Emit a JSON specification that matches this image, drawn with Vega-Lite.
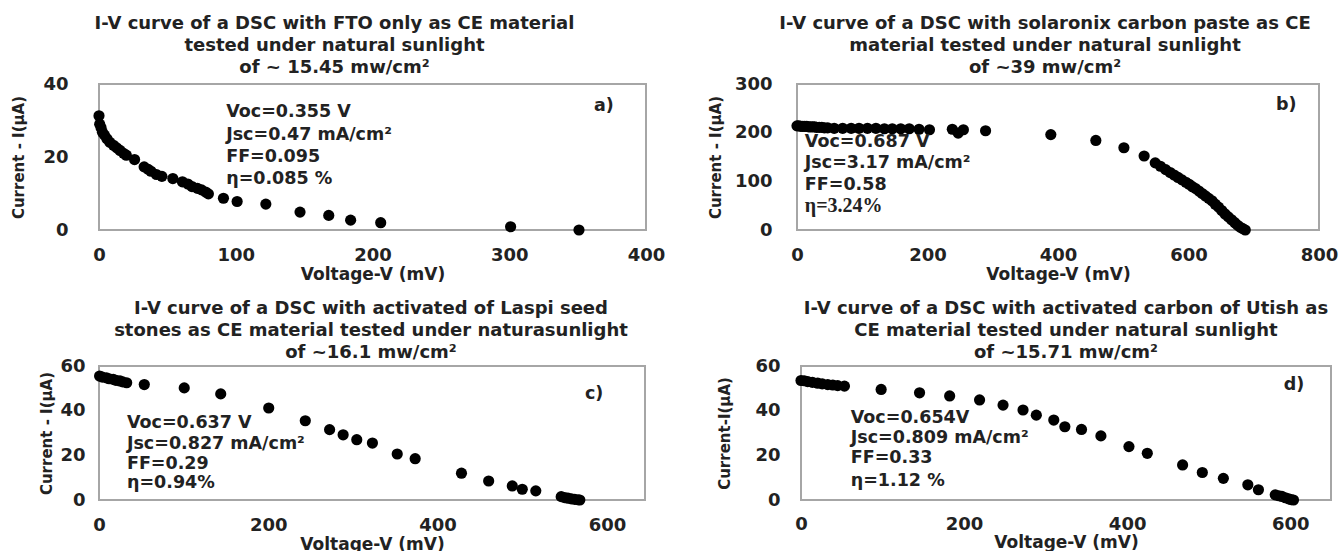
{
  "$schema": "https://vega.github.io/schema/vega-lite/v6.json",
  "padding": {"left": 10, "top": 14, "right": 0, "bottom": 0},
  "background": "white",
  "config": {
    "font": "DejaVu Sans",
    "view": {"stroke": "#a6a6a6", "strokeWidth": 2},
    "axis": {"domain": false, "ticks": false, "grid": false, "labelFont": "DejaVu Sans", "labelFontWeight": "bold", "labelFontSize": 18, "labelColor": "#222222", "titleFont": "DejaVu Sans", "titleFontWeight": "bold", "titleColor": "#222222"},
    "axisX": {"titleFontSize": 17, "labelPadding": 16, "titlePadding": 2, "labelFlush": false},
    "axisY": {"titleFontSize": 15},
    "title": {"font": "DejaVu Sans", "fontSize": 18, "fontWeight": "bold", "lineHeight": 22, "anchor": "middle", "color": "#222222", "frame": "group"},
    "circle": {"color": "black", "size": 125, "opacity": 1},
    "text": {"font": "DejaVu Sans", "fontSize": 17.5, "fontWeight": "bold", "color": "#222222", "align": "left", "baseline": "middle"}
  },
  "vconcat": [
    {
      "spacing": 41,
      "hconcat": [
        {
          "width": 547, "height": 146,
          "title": {"text": ["I-V curve of a DSC with FTO only as CE material", "tested under natural sunlight", "of ~ 15.45 mw/cm²"], "dx": -38, "offset": -2},
          "layer": [
            {
              "data": {"values": [
                {"V": 0, "I": 31.3}, {"V": 0.5, "I": 29}, {"V": 1.5, "I": 28}, {"V": 2.5, "I": 26.8}, {"V": 4, "I": 26}, {"V": 5.8, "I": 25}, {"V": 8, "I": 24}, {"V": 10.6, "I": 23.2}, {"V": 13, "I": 22.5}, {"V": 15.4, "I": 21.8}, {"V": 18, "I": 21}, {"V": 20, "I": 20.5}, {"V": 26, "I": 19.3}, {"V": 33, "I": 17.3}, {"V": 36, "I": 16.6}, {"V": 38, "I": 16.1}, {"V": 42, "I": 15.2}, {"V": 46, "I": 14.7}, {"V": 54, "I": 14.1}, {"V": 61, "I": 13.2}, {"V": 65, "I": 12.6}, {"V": 68, "I": 11.9}, {"V": 72, "I": 11.4}, {"V": 75, "I": 11}, {"V": 78, "I": 10.4}, {"V": 80, "I": 9.9}, {"V": 91, "I": 8.7}, {"V": 101, "I": 7.8}, {"V": 122, "I": 7.1}, {"V": 147, "I": 4.9}, {"V": 168, "I": 4}, {"V": 184, "I": 2.7}, {"V": 206, "I": 2}, {"V": 301, "I": 0.9}, {"V": 351, "I": 0}
              ]},
              "mark": {"type": "circle"},
              "encoding": {
                "x": {"field": "V", "type": "quantitative", "title": "Voltage-V (mV)", "scale": {"domain": [0, 400], "nice": false}, "axis": {"values": [0, 100, 200, 300, 400]}},
                "y": {"field": "I", "type": "quantitative", "title": "Current - I(µA)", "scale": {"domain": [0, 40], "nice": false}, "axis": {"values": [0, 10, 20, 30, 40], "labelPadding": 31, "titlePadding": 16}}
              }
            },
            {
              "data": {"values": [
                {"V": 93, "I": 32.2, "label": "Voc=0.355 V"}, {"V": 93, "I": 25.9, "label": "Jsc=0.47 mA/cm²"}, {"V": 93, "I": 20, "label": "FF=0.095"}, {"V": 93, "I": 14.1, "label": "η=0.085 %"}, {"V": 362, "I": 34, "label": "a)"}
              ]},
              "mark": {"type": "text"},
              "encoding": {"x": {"field": "V", "type": "quantitative"}, "y": {"field": "I", "type": "quantitative"}, "text": {"field": "label"}}
            }
          ]
        },
        {
          "width": 522, "height": 146,
          "title": {"text": ["I-V curve of a DSC with solaronix carbon paste as CE", "material tested under natural sunlight", "of ~39 mw/cm²"], "dx": -13, "offset": -2},
          "layer": [
            {
              "data": {"values": [
                {"V": 0, "I": 214}, {"V": 3, "I": 214}, {"V": 6, "I": 213}, {"V": 9, "I": 213}, {"V": 12, "I": 213}, {"V": 15, "I": 213}, {"V": 18, "I": 212}, {"V": 21, "I": 212}, {"V": 24, "I": 212}, {"V": 27, "I": 212}, {"V": 30, "I": 211}, {"V": 34, "I": 211}, {"V": 38, "I": 211}, {"V": 42, "I": 210}, {"V": 47, "I": 210}, {"V": 57, "I": 209}, {"V": 70, "I": 209}, {"V": 83, "I": 209}, {"V": 95, "I": 209}, {"V": 108, "I": 209}, {"V": 121, "I": 209}, {"V": 134, "I": 208}, {"V": 146, "I": 208}, {"V": 159, "I": 208}, {"V": 172, "I": 208}, {"V": 187, "I": 207}, {"V": 203, "I": 206}, {"V": 238, "I": 207}, {"V": 247, "I": 199}, {"V": 255, "I": 206}, {"V": 289, "I": 204}, {"V": 389, "I": 196}, {"V": 458, "I": 184}, {"V": 501, "I": 169}, {"V": 532, "I": 152}, {"V": 549, "I": 138}, {"V": 557, "I": 131}, {"V": 565, "I": 124}, {"V": 572, "I": 118}, {"V": 578, "I": 113}, {"V": 584, "I": 108}, {"V": 590, "I": 103}, {"V": 596, "I": 98}, {"V": 601, "I": 94}, {"V": 606, "I": 89}, {"V": 611, "I": 85}, {"V": 616, "I": 80}, {"V": 621, "I": 75}, {"V": 626, "I": 70}, {"V": 631, "I": 65}, {"V": 636, "I": 60}, {"V": 641, "I": 53}, {"V": 646, "I": 47}, {"V": 651, "I": 40}, {"V": 656, "I": 33}, {"V": 661, "I": 27}, {"V": 666, "I": 21}, {"V": 671, "I": 15}, {"V": 675, "I": 10}, {"V": 679, "I": 6}, {"V": 683, "I": 3}, {"V": 687, "I": 0}
              ]},
              "mark": {"type": "circle"},
              "encoding": {
                "x": {"field": "V", "type": "quantitative", "title": "Voltage-V (mV)", "scale": {"domain": [0, 800], "nice": false}, "axis": {"values": [0, 200, 400, 600, 800]}},
                "y": {"field": "I", "type": "quantitative", "title": "Current - I(µA)", "scale": {"domain": [0, 300], "nice": false}, "axis": {"values": [0, 100, 200, 300], "labelPadding": 25, "titlePadding": 11}}
              }
            },
            {
              "data": {"values": [
                {"V": 12, "I": 181, "label": "Voc=0.687 V"}, {"V": 12, "I": 137, "label": "Jsc=3.17 mA/cm²"}, {"V": 12, "I": 92.5, "label": "FF=0.58"}, {"V": 734, "I": 256, "label": "b)"}
              ]},
              "mark": {"type": "text"},
              "encoding": {"x": {"field": "V", "type": "quantitative"}, "y": {"field": "I", "type": "quantitative"}, "text": {"field": "label"}}
            },
            {
              "data": {"values": [
                {"V": 12, "I": 49, "label": "η=3.24%"}
              ]},
              "mark": {"type": "text", "font": "Liberation Serif", "fontSize": 20},
              "encoding": {"x": {"field": "V", "type": "quantitative"}, "y": {"field": "I", "type": "quantitative"}, "text": {"field": "label"}}
            }
          ]
        }
      ]
    },
    {
      "spacing": 70,
      "hconcat": [
        {
          "width": 546, "height": 134,
          "title": {"text": ["I-V curve of a DSC with activated of Laspi seed", "stones as CE material tested under naturasunlight", "of ~16.1 mw/cm²"], "dx": -1, "offset": -5},
          "layer": [
            {
              "data": {"values": [
                {"V": 0.7, "I": 55.5}, {"V": 4, "I": 55}, {"V": 8.8, "I": 54.7}, {"V": 12, "I": 54.3}, {"V": 16.8, "I": 54}, {"V": 20, "I": 53.6}, {"V": 24.7, "I": 53.3}, {"V": 28, "I": 52.9}, {"V": 32.7, "I": 52.5}, {"V": 53.5, "I": 51.7}, {"V": 100.7, "I": 50.2}, {"V": 143.8, "I": 47.5}, {"V": 200.5, "I": 41.2}, {"V": 243.7, "I": 35.5}, {"V": 272.4, "I": 31.5}, {"V": 288.4, "I": 29.2}, {"V": 304.5, "I": 27}, {"V": 323, "I": 25.5}, {"V": 352.3, "I": 20.6}, {"V": 373.5, "I": 18.5}, {"V": 428.2, "I": 12}, {"V": 460.3, "I": 8.5}, {"V": 488.2, "I": 6.3}, {"V": 500, "I": 4.8}, {"V": 516, "I": 4.1}, {"V": 546, "I": 1.5}, {"V": 550, "I": 1.1}, {"V": 554, "I": 0.8}, {"V": 558, "I": 0.5}, {"V": 562, "I": 0.3}, {"V": 566, "I": 0.1}, {"V": 568, "I": 0}
              ]},
              "mark": {"type": "circle"},
              "encoding": {
                "x": {"field": "V", "type": "quantitative", "title": "Voltage-V (mV)", "scale": {"domain": [0, 645], "nice": false}, "axis": {"values": [0, 200, 400, 600]}},
                "y": {"field": "I", "type": "quantitative", "title": "Current - I(µA)", "scale": {"domain": [0, 60], "nice": false}, "axis": {"values": [0, 20, 40, 60], "labelPadding": 14, "titlePadding": 5}}
              }
            },
            {
              "data": {"values": [
                {"V": 33, "I": 34.5, "label": "Voc=0.637 V"}, {"V": 33, "I": 25, "label": "Jsc=0.827 mA/cm²"}, {"V": 33, "I": 15.9, "label": "FF=0.29"}, {"V": 33, "I": 7.4, "label": "η=0.94%"}, {"V": 574, "I": 47.5, "label": "c)"}
              ]},
              "mark": {"type": "text"},
              "encoding": {"x": {"field": "V", "type": "quantitative"}, "y": {"field": "I", "type": "quantitative"}, "text": {"field": "label"}}
            }
          ]
        },
        {
          "width": 530, "height": 134,
          "title": {"text": ["I-V curve of a DSC with activated carbon  of Utish as", "CE material tested under natural sunlight", "of  ~15.71 mw/cm²"], "dx": 0, "offset": -5},
          "layer": [
            {
              "data": {"values": [
                {"V": 0, "I": 53.5}, {"V": 4, "I": 53.4}, {"V": 8.2, "I": 53}, {"V": 14, "I": 52.7}, {"V": 20.5, "I": 52.3}, {"V": 26, "I": 52}, {"V": 32.8, "I": 51.7}, {"V": 39, "I": 51.5}, {"V": 45, "I": 51.2}, {"V": 53.3, "I": 51}, {"V": 98.3, "I": 49.5}, {"V": 145.4, "I": 48}, {"V": 182.3, "I": 46.6}, {"V": 219, "I": 44.8}, {"V": 247.8, "I": 42.5}, {"V": 272.3, "I": 40.3}, {"V": 288.6, "I": 38}, {"V": 310, "I": 35.8}, {"V": 323.6, "I": 32.8}, {"V": 344, "I": 31.6}, {"V": 367.8, "I": 28.7}, {"V": 402.2, "I": 23.9}, {"V": 424.7, "I": 20.9}, {"V": 468, "I": 15.7}, {"V": 492.2, "I": 12.3}, {"V": 518, "I": 9.7}, {"V": 548, "I": 6.8}, {"V": 561, "I": 4.6}, {"V": 581.6, "I": 2.3}, {"V": 586, "I": 1.9}, {"V": 589.8, "I": 1.6}, {"V": 594, "I": 1}, {"V": 598, "I": 0.5}, {"V": 601, "I": 0.2}, {"V": 604, "I": 0}
              ]},
              "mark": {"type": "circle"},
              "encoding": {
                "x": {"field": "V", "type": "quantitative", "title": "Voltage-V (mV)", "scale": {"domain": [0, 650], "nice": false}, "axis": {"values": [0, 200, 400, 600], "labelPadding": 15, "titlePadding": 1}},
                "y": {"field": "I", "type": "quantitative", "title": "Current-I(µA)", "scale": {"domain": [0, 60], "nice": false}, "axis": {"values": [0, 20, 40, 60], "labelPadding": 21, "titlePadding": 22}}
              }
            },
            {
              "data": {"values": [
                {"V": 61, "I": 36.6, "label": "Voc=0.654V"}, {"V": 61, "I": 27.6, "label": "Jsc=0.809 mA/cm²"}, {"V": 61, "I": 18.7, "label": " FF=0.33"}, {"V": 61, "I": 8.7, "label": "η=1.12 %"}, {"V": 592, "I": 51.5, "label": "d)"}
              ]},
              "mark": {"type": "text"},
              "encoding": {"x": {"field": "V", "type": "quantitative"}, "y": {"field": "I", "type": "quantitative"}, "text": {"field": "label"}}
            }
          ]
        }
      ]
    }
  ],
  "spacing": 16
}
